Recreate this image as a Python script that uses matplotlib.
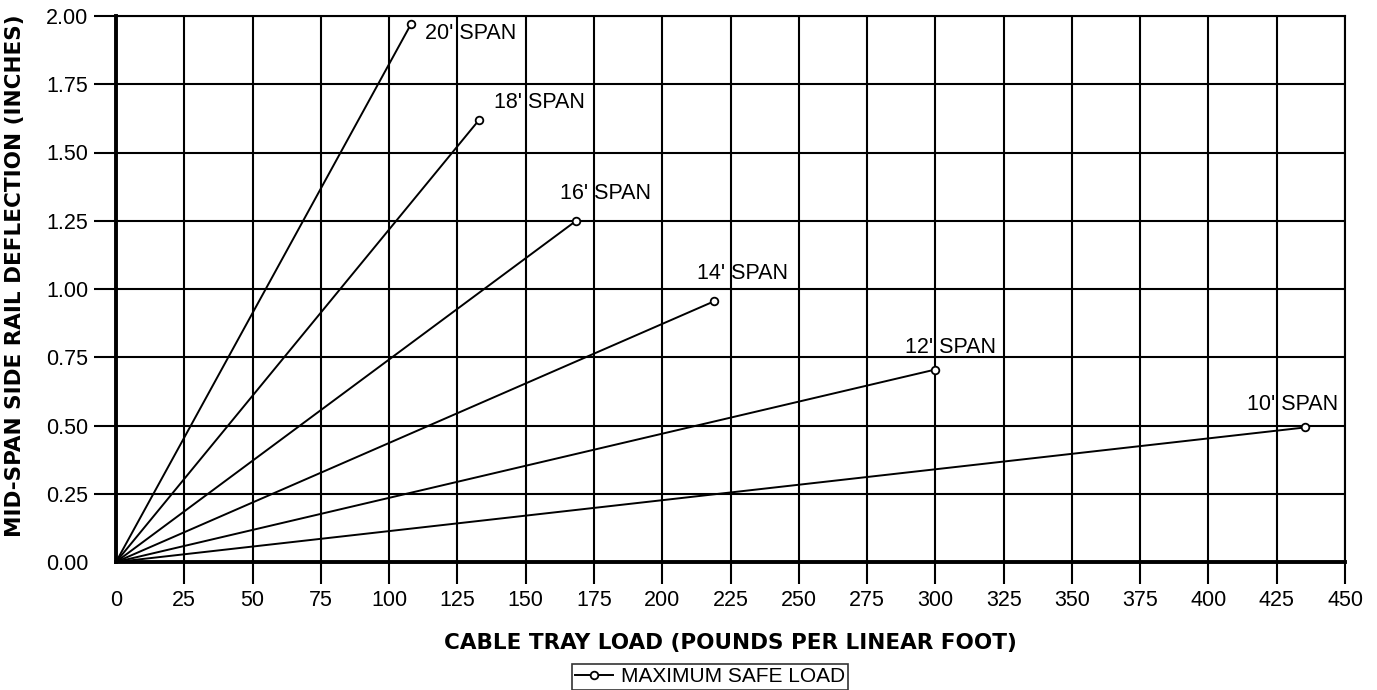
import numpy as np
import matplotlib
matplotlib.use("Agg")
import matplotlib.pyplot as plt
from matplotlib.lines import Line2D
from matplotlib.legend_handler import HandlerLine2D

# max safe load end points for each span (load lb/ft, deflection in)
spans = ["20' SPAN", "18' SPAN", "16' SPAN", "14' SPAN", "12' SPAN", "10' SPAN"]
loads = [108, 133, 168.5, 219, 300, 435.5]
deflections = [1.97, 1.62, 1.25, 0.955, 0.705, 0.493]

x_ticks = list(range(0, 451, 25))
y_ticks = [0.0, 0.25, 0.5, 0.75, 1.0, 1.25, 1.5, 1.75, 2.0]

# label offsets in pixels (dx, dy) from the end point
lbl_off = [(14, -9), (15, 17), (-16, 27), (-17, 28), (-30, 22), (-58, 23)]

plt.rcParams['font.family'] = ['Liberation Sans', 'DejaVu Sans']


class EndMarker(HandlerLine2D):
    # marker only at the right end of the legend line
    def get_xdata(self, legend, xdescent, ydescent, width, height, fontsize):
        xd = np.array([-xdescent, -xdescent + width])
        return xd, xd[-1:]


fig = plt.figure(figsize=(13.77, 6.90), dpi=100)
ax = fig.add_axes([116/1377, 1 - 562/690, (1345-116)/1377, (562-16)/690])

for name, xl, yl, (dx, dy) in zip(spans, loads, deflections, lbl_off):
    ax.plot([0, xl], [0, yl], color="black", lw=1.4, zorder=3)
    ax.plot([xl], [yl], marker="o", ms=5.5, mfc="white", mec="black", mew=1.3, zorder=4)
    ax.annotate(name, (xl, yl), xytext=(dx, dy), textcoords="offset pixels",
                fontsize=15.5, ha="left", va="center")

ax.set_xlim(0, 450)
ax.set_ylim(0, 2.0)
ax.set_xticks(x_ticks)
ax.set_yticks(y_ticks)
ax.set_yticklabels([f"{v:.2f}" for v in y_ticks])
ax.grid(True, color="black", lw=1.5)
ax.tick_params(length=16, width=1.5, labelsize=15.5, pad=4, color="black")
# no tick mark at the origin
ax.xaxis.get_major_ticks()[0].tick1line.set_visible(False)
ax.yaxis.get_major_ticks()[0].tick1line.set_visible(False)

for s in ["top", "right"]:
    ax.spines[s].set_linewidth(1.5)
for s in ["left", "bottom"]:
    ax.spines[s].set_linewidth(2.8)

ax.set_xlabel("CABLE TRAY LOAD (POUNDS PER LINEAR FOOT)", fontsize=15.5,
              fontweight="heavy", family=["DejaVu Sans"], labelpad=16)
ax.set_ylabel("MID-SPAN SIDE RAIL DEFLECTION (INCHES)", fontsize=15.5,
              fontweight="heavy", family=["DejaVu Sans"], labelpad=15)
ax.yaxis.label.set_y(0.525)

h = Line2D([], [], color="black", lw=1.4, marker="o", ms=5.5, mfc="white",
           mec="black", mew=1.3)
leg = fig.legend([h], ["MAXIMUM SAFE LOAD"], handler_map={h: EndMarker()},
                 loc="center", bbox_to_anchor=(710/1377, 1 - 677/690),
                 fontsize=15, frameon=True, fancybox=False, handlelength=1.8,
                 handletextpad=0.4, borderpad=0.15, borderaxespad=0)
leg.get_frame().set_edgecolor("black")
leg.get_frame().set_linewidth(1.2)

fig.savefig("out.png", dpi=100)
